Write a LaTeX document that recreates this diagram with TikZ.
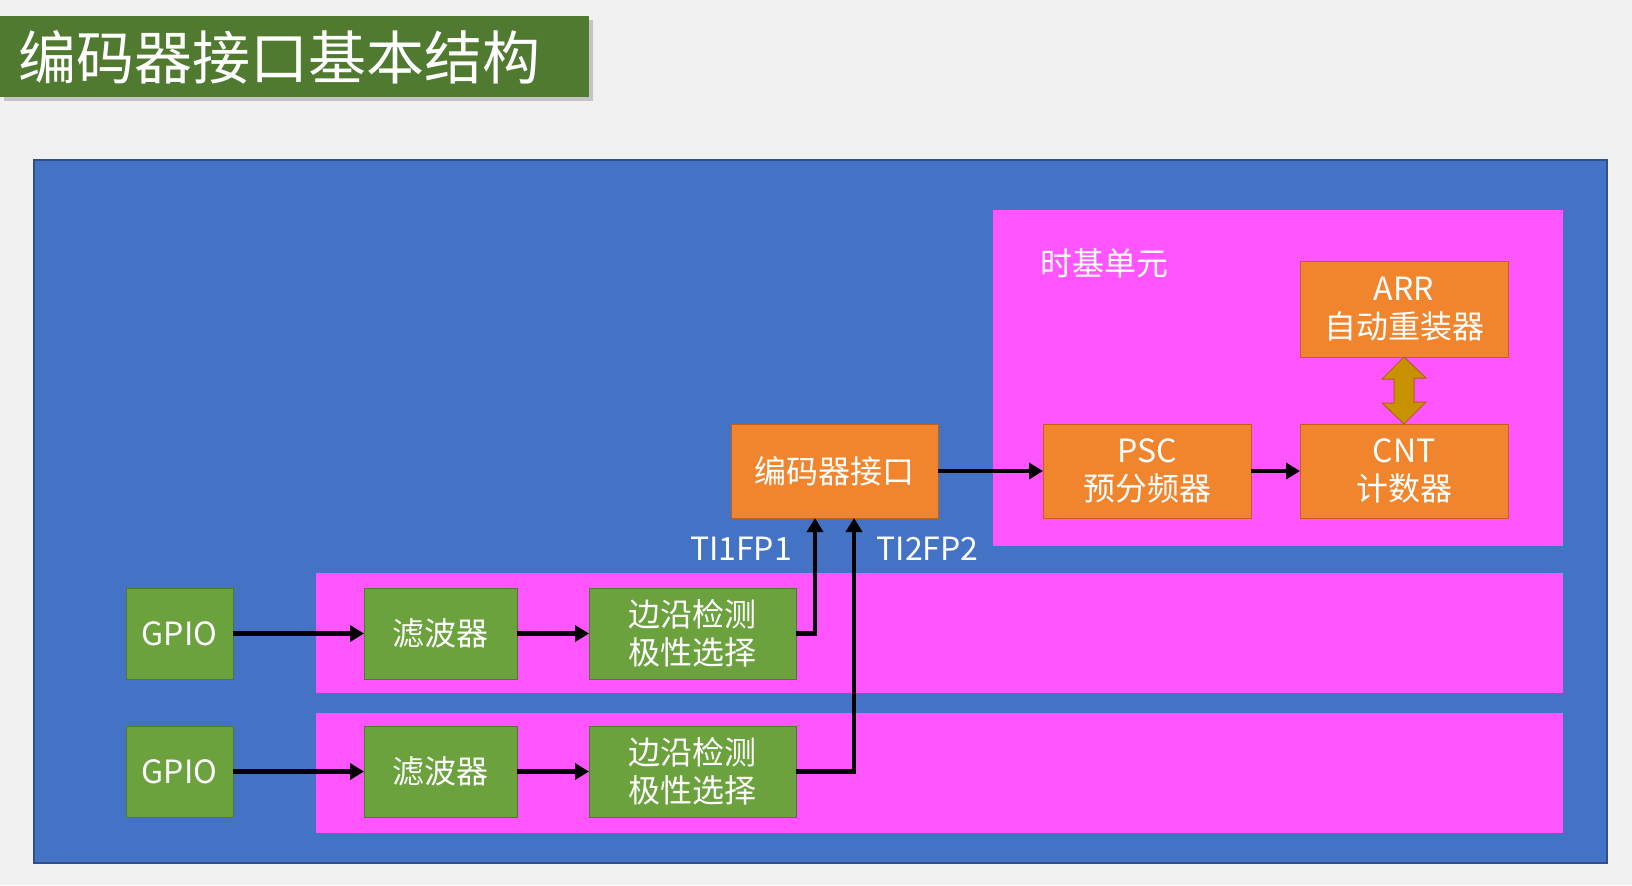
\documentclass[tikz,border=0pt]{standalone}
\usepackage{fontspec}
\setmainfont{Noto Sans CJK SC}
\usepackage{tikz}
\usetikzlibrary{arrows.meta,positioning,shadows}
\definecolor{pagebg}{HTML}{F0F0F0}
\definecolor{titlegreen}{HTML}{507A30}
\definecolor{boardblue}{HTML}{4472C4}
\definecolor{boardedge}{HTML}{2F4F8F}
\definecolor{zonepink}{HTML}{FF55FF}
\definecolor{unitorange}{HTML}{F0852D}
\definecolor{unitedge}{HTML}{C0601A}
\definecolor{pingreen}{HTML}{6BA23E}
\definecolor{pinedge}{HTML}{4E7A2C}
\definecolor{reloadgold}{HTML}{C89100}
\definecolor{reloadedge}{HTML}{B0601A}

\begin{document}
\begin{tikzpicture}[
  x=0.5pt, y=-0.5pt,
  every node/.style={font=\fontsize{16}{19}\selectfont, text=white},
  block/.style={rectangle, inner sep=0pt, outer sep=0pt, align=center, line width=0.5pt},
  unit/.style={block, fill=unitorange, draw=unitedge, minimum width=104pt, minimum height=47pt},
  pin/.style={block, fill=pingreen, draw=pinedge, minimum height=45.5pt},
  zone/.style={rectangle, fill=zonepink, inner sep=0pt, anchor=north west},
  wire/.style={-{Triangle[length=7pt,width=8pt]}, line width=2.3pt, draw=black}
]
\fill[pagebg] (0,0) rectangle (1632,885);
\useasboundingbox (0,0) rectangle (1632,885);

\node[fill=titlegreen, anchor=north west, minimum width=294.5pt, minimum height=40.5pt,
      inner xsep=9pt, inner ysep=0pt, text width=276pt, align=left,
      drop shadow={shadow xshift=2pt, shadow yshift=-2pt, fill=black!40},
      font=\fontsize{29}{35}\selectfont] (title) at (0,16) {编码器接口基本结构};

\node[rectangle, fill=boardblue, draw=boardedge, line width=1pt, anchor=north west,
      minimum width=786.5pt, minimum height=351.5pt] (board) at (33,159) {};

\node[zone, minimum width=285pt, minimum height=168pt]  (timebase) at (993,210) {};
\node[zone, minimum width=623.5pt, minimum height=60pt] (chanA)    at (316,573) {};
\node[zone, minimum width=623.5pt, minimum height=60pt] (chanB)    at (316,713) {};
\node (tblabel) at (1104,263) {时基单元};

\node[unit, minimum width=103.5pt] (enc) at (834.5,471) {编码器接口};
\node[unit, right=52.5pt of enc] (psc) {PSC\\预分频器};
\node[unit, right=24.5pt of psc] (cnt) {CNT\\计数器};
\node[unit, above=33.5pt of cnt, minimum height=48pt] (arr) {ARR\\自动重装器};

\filldraw[fill=reloadgold, draw=reloadedge, line width=0.5pt]
  (arr.south) -- ++(22,21) -- ++(-12,0) -- ++(0,24) -- ++(12,0) -- (cnt.north)
  -- ++(-22,-21) -- ++(12,0) -- ++(0,-24) -- ++(-12,0) -- cycle;

\node[pin, minimum width=53.5pt] (gpioA) at (179.5,633.5) {GPIO};
\node[pin, minimum width=76.5pt, right=65.5pt of gpioA] (filtA) {滤波器};
\node[pin, minimum width=103.5pt, right=36pt of filtA] (edgeA) {边沿检测\\极性选择};

\node[pin, minimum width=53.5pt] (gpioB) at (179.5,771.5) {GPIO};
\node[pin, minimum width=76.5pt, right=65.5pt of gpioB] (filtB) {滤波器};
\node[pin, minimum width=103.5pt, right=36pt of filtB] (edgeB) {边沿检测\\极性选择};

\draw[wire] (gpioA) -- (filtA);
\draw[wire] (filtA) -- (edgeA);
\draw[wire] (gpioB) -- (filtB);
\draw[wire] (filtB) -- (edgeB);
\draw[wire] (edgeA.east) -| ([xshift=-9.75pt]enc.south);
\draw[wire] (edgeB.east) -| ([xshift=9.75pt]enc.south);
\draw[wire] (enc) -- (psc);
\draw[wire] (psc) -- (cnt);

\node (ti1) at (741,549)   {TI1FP1};
\node (ti2) at (927.5,549) {TI2FP2};
\end{tikzpicture}
\end{document}
